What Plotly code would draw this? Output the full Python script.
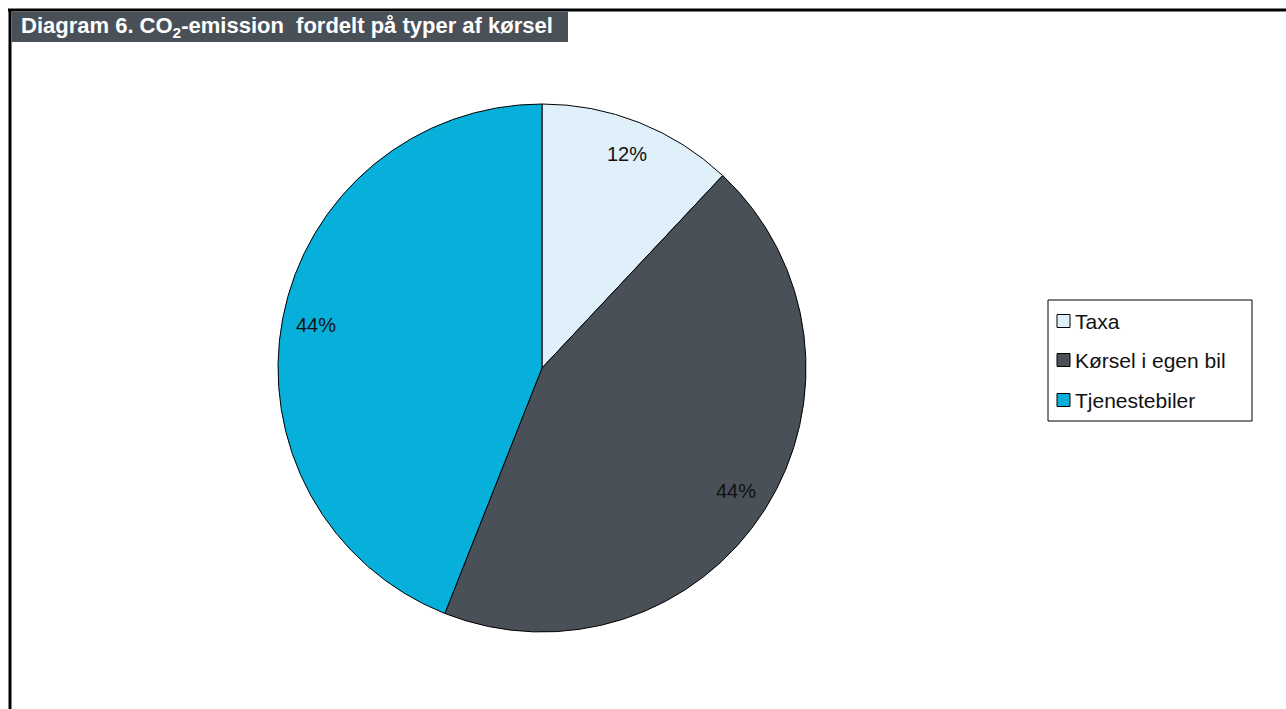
import math
import plotly.graph_objects as go

# Data
categories = ["Taxa", "Kørsel i egen bil", "Tjenestebiler"]
shares = [12, 44, 44]
colors = ["#dff0fa", "#4a5058", "#06b0da"]
title_text = "<b>Diagram 6. CO<sub>2</sub>-emission  fordelt på typer af kørsel</b>"

W, H = 1286, 709
FONT = "Liberation Sans, Arial, sans-serif"

# Pie geometry in pixels
CX, CY, R = 542, 368, 264


def px(x):
    return x / W


def py(y):
    return 1 - y / H


fig = go.Figure()
fig.add_trace(go.Pie(
    labels=categories,
    values=shares,
    marker=dict(colors=colors, line=dict(color="#000000", width=1)),
    sort=False,
    direction="clockwise",
    rotation=0,
    textinfo="none",
    hoverinfo="label+percent",
    showlegend=False,
    domain=dict(x=[px(CX - R), px(CX + R)], y=[py(CY + R), py(CY - R)]),
))

annotations = []
shapes = []

# Percentage labels placed along each slice's mid-angle
total = sum(shares)
cum = 0
for v in shares:
    mid = (cum + v / 2) / total * 2 * math.pi
    cum += v
    lx = CX + 0.87 * R * math.sin(mid)
    ly = CY - 0.87 * R * math.cos(mid)
    annotations.append(dict(
        x=px(lx), y=py(ly), xref="paper", yref="paper",
        text=f"{round(v / total * 100)}%", showarrow=False,
        font=dict(family=FONT, size=20, color="#111111"),
        xanchor="center", yanchor="middle",
    ))

# Frame lines
shapes.append(dict(type="line", xref="paper", yref="paper",
                   x0=px(8), x1=1, y0=py(10), y1=py(10),
                   line=dict(color="#000000", width=3)))
shapes.append(dict(type="line", xref="paper", yref="paper",
                   x0=px(10), x1=px(10), y0=py(9), y1=0,
                   line=dict(color="#000000", width=3)))

# Title bar
shapes.append(dict(type="rect", xref="paper", yref="paper",
                   x0=px(11.5), x1=px(568), y0=py(42), y1=py(11.5),
                   fillcolor="#4a5058", line=dict(width=0)))
annotations.append(dict(
    x=px(19), y=py(27), xref="paper", yref="paper",
    text=title_text, showarrow=False,
    font=dict(family=FONT, size=22, color="#ffffff"),
    xanchor="left", yanchor="middle",
))

# Legend box
LX0, LY0, LX1, LY1 = 1048, 300, 1252, 421
shapes.append(dict(type="rect", xref="paper", yref="paper",
                   x0=px(LX0), x1=px(LX1), y0=py(LY1), y1=py(LY0),
                   fillcolor="#ffffff", line=dict(color="#000000", width=1)))
row_y = [321, 360, 400]
for cat, col, ry in zip(categories, colors, row_y):
    shapes.append(dict(type="rect", xref="paper", yref="paper",
                       x0=px(1057), x1=px(1070), y0=py(ry + 6.5), y1=py(ry - 6.5),
                       fillcolor=col, line=dict(color="#000000", width=1)))
    annotations.append(dict(
        x=px(1073), y=py(ry), xref="paper", yref="paper",
        text=cat, showarrow=False,
        font=dict(family=FONT, size=21, color="#111111"),
        xanchor="left", yanchor="middle",
    ))

fig.update_layout(
    width=W, height=H, autosize=False,
    margin=dict(l=0, r=0, t=0, b=0),
    paper_bgcolor="#ffffff", plot_bgcolor="#ffffff",
    shapes=shapes, annotations=annotations,
)

fig.write_html("out.html")
